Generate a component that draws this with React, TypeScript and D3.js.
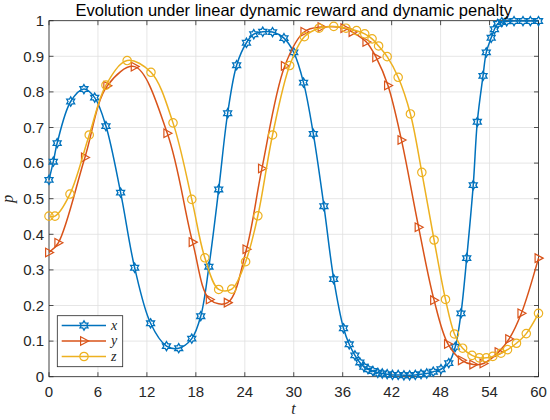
import React from "react";
import * as d3 from "d3";

const xT = [0, 0.53, 1.0, 2.66, 4.28, 5.6, 6.98, 8.78, 10.5, 12.45, 14.4, 15.9, 17.5, 18.6, 19.6, 20.8, 21.9, 23.0, 24.2, 25.1, 26.2, 27.4, 28.8, 30.0, 31.2, 32.4, 33.7, 34.9, 36.1, 36.8, 37.5, 38.1, 38.6, 39.1, 39.7, 40.3, 40.85, 41.45, 42.1, 42.8, 43.5, 44.2, 44.9, 45.6, 46.3, 47.1, 48.05, 49.0, 49.8, 50.5, 51.2, 52.0, 52.5, 53.2, 53.6, 54.2, 54.6, 55.0, 55.5, 56.1, 57.0, 58.1, 59.0, 60];
const xP = [0.553, 0.604, 0.656, 0.773, 0.808, 0.784, 0.704, 0.517, 0.306, 0.150, 0.086, 0.080, 0.107, 0.170, 0.309, 0.526, 0.740, 0.875, 0.938, 0.962, 0.969, 0.968, 0.951, 0.911, 0.826, 0.682, 0.479, 0.274, 0.136, 0.091, 0.060, 0.040, 0.028, 0.021, 0.016, 0.011, 0.009, 0.007, 0.005, 0.005, 0.004, 0.004, 0.005, 0.007, 0.009, 0.014, 0.021, 0.038, 0.084, 0.178, 0.333, 0.538, 0.716, 0.845, 0.911, 0.952, 0.976, 0.991, 0.996, 0.998, 0.999, 0.999, 0.999, 0.999];

const yT = [0, 1.14, 4.4, 7.14, 10.5, 14.5, 17.6, 19.7, 21.9, 24.2, 26.1, 28.9, 31.3, 33.4, 36.2, 37.2, 38.9, 40.1, 41.55, 43.2, 45.3, 47.2, 48.9, 50.6, 52.0, 53.25, 55.1, 56.4, 57.9, 60];
const yP = [0.349, 0.376, 0.616, 0.817, 0.871, 0.684, 0.378, 0.217, 0.208, 0.358, 0.585, 0.873, 0.969, 0.982, 0.979, 0.968, 0.940, 0.897, 0.818, 0.665, 0.420, 0.215, 0.092, 0.046, 0.034, 0.037, 0.069, 0.106, 0.178, 0.333];

const zT = [0, 0.73, 2.57, 4.93, 6.98, 9.58, 12.5, 15.2, 17.5, 19.1, 20.8, 22.4, 24.1, 25.6, 27.4, 29.5, 31.3, 33.1, 34.9, 36.4, 37.7, 38.7, 39.6, 40.4, 41.45, 42.8, 44.3, 45.7, 47.2, 48.6, 49.7, 50.7, 51.85, 52.75, 53.6, 54.4, 55.4, 56.2, 57.3, 58.5, 60];
const zP = [0.451, 0.451, 0.513, 0.679, 0.819, 0.888, 0.855, 0.713, 0.498, 0.334, 0.245, 0.246, 0.323, 0.452, 0.679, 0.874, 0.955, 0.979, 0.984, 0.979, 0.972, 0.963, 0.949, 0.929, 0.899, 0.841, 0.738, 0.574, 0.384, 0.217, 0.120, 0.080, 0.060, 0.053, 0.053, 0.057, 0.066, 0.076, 0.094, 0.121, 0.178];

const xTicks = [0, 6, 12, 18, 24, 30, 36, 42, 48, 54, 60];
const yTicks = [0, 0.1, 0.2, 0.3, 0.4, 0.5, 0.6, 0.7, 0.8, 0.9, 1];
const seriesNames = ["x", "y", "z"];
const colors = ["#0072BD", "#D95319", "#EDB120"];
const title = "Evolution under linear dynamic reward and dynamic penalty";

const L = 49, R = 538.5, T = 20.7, B = 376.7;

function hexagram(r: number) {
  const pts: string[] = [];
  for (let i = 0; i < 12; i++) {
    const a = -Math.PI / 2 + (i * Math.PI) / 6;
    const rr = i % 2 === 0 ? r : r / Math.sqrt(3);
    pts.push(`${(rr * Math.cos(a)).toFixed(2)},${(rr * Math.sin(a)).toFixed(2)}`);
  }
  return "M" + pts.join("L") + "Z";
}
const triPath = "M4.6,0L-3.4,-4.3L-3.4,4.3Z";

function Marker({ kind, color }: { kind: number; color: string }) {
  if (kind === 0) return <path d={hexagram(4.6)} fill="none" stroke={color} strokeWidth={1.3} />;
  if (kind === 1) return <path d={triPath} fill="none" stroke={color} strokeWidth={1.2} />;
  return <circle r={4.2} fill="none" stroke={color} strokeWidth={1.2} />;
}

export default function App() {
  const xs = d3.scaleLinear().domain([0, 60]).range([L, R]);
  const ys = d3.scaleLinear().domain([0, 1]).range([B, T]);
  const series = [
    xT.map((t, i) => [t, xP[i]] as [number, number]),
    yT.map((t, i) => [t, yP[i]] as [number, number]),
    zT.map((t, i) => [t, zP[i]] as [number, number]),
  ];
  const line = d3
    .line<[number, number]>()
    .x((d) => xs(d[0]))
    .y((d) => ys(d[1]))
    .curve(d3.curveCatmullRom.alpha(0.5));
  const axisColor = "#262626";
  const font = "'Liberation Sans', Arial, Helvetica, sans-serif";
  const legY = [325.5, 341, 356.5];
  return (
    <svg width={550} height={420} style={{ position: "absolute", left: 0, top: 0, background: "#fff" }}>
      <rect x={0} y={0} width={550} height={420} fill="#fff" />
      <g>
        {xTicks.map((t) => (
          <line key={"gx" + t} x1={xs(t)} x2={xs(t)} y1={T} y2={B} stroke="#e0e0e0" strokeWidth={0.8} />
        ))}
        {yTicks.map((t) => (
          <line key={"gy" + t} x1={L} x2={R} y1={ys(t)} y2={ys(t)} stroke="#e0e0e0" strokeWidth={0.8} />
        ))}
      </g>
      <rect x={L} y={T} width={R - L} height={B - T} fill="none" stroke={axisColor} strokeWidth={0.8} />
      {xTicks.map((t) => (
        <g key={"tx" + t}>
          <line x1={xs(t)} x2={xs(t)} y1={B} y2={B - 4.5} stroke={axisColor} strokeWidth={0.8} />
          <line x1={xs(t)} x2={xs(t)} y1={T} y2={T + 4.5} stroke={axisColor} strokeWidth={0.8} />
          <text x={xs(t)} y={B + 20} textAnchor="middle" fontFamily={font} fontSize={15} fill={axisColor}>
            {t}
          </text>
        </g>
      ))}
      {yTicks.map((t) => (
        <g key={"ty" + t}>
          <line x1={L} x2={L + 4.5} y1={ys(t)} y2={ys(t)} stroke={axisColor} strokeWidth={0.8} />
          <line x1={R} x2={R - 4.5} y1={ys(t)} y2={ys(t)} stroke={axisColor} strokeWidth={0.8} />
          <text x={L - 5} y={ys(t) + 5.3} textAnchor="end" fontFamily={font} fontSize={15} fill={axisColor}>
            {d3.format("~g")(t)}
          </text>
        </g>
      ))}
      {series.map((s, k) => (
        <g key={"s" + k}>
          <path d={line(s) || ""} fill="none" stroke={colors[k]} strokeWidth={1.5} />
          {s.map((d, i) => (
            <g key={i} transform={`translate(${xs(d[0])},${ys(d[1])})`}>
              <Marker kind={k} color={colors[k]} />
            </g>
          ))}
        </g>
      ))}
      <text x={(L + R) / 2} y={16} textAnchor="middle" fontFamily={font} fontSize={16.5} fill="#000">
        {title}
      </text>
      <text x={293.5} y={414} textAnchor="middle" fontFamily="'Liberation Serif', 'Times New Roman', serif" fontStyle="italic" fontSize={16} fill={axisColor}>
        t
      </text>
      <text transform={`translate(13,${(T + B) / 2}) rotate(-90)`} textAnchor="middle" fontFamily="'Liberation Serif', 'Times New Roman', serif" fontStyle="italic" fontSize={16} fill={axisColor}>
        p
      </text>
      <g>
        <rect x={57.3} y={315.7} width={65.4} height={51} fill="#fff" stroke={axisColor} strokeWidth={0.8} />
        {seriesNames.map((n, k) => (
          <g key={"lg" + k}>
            <line x1={61.7} x2={106} y1={legY[k]} y2={legY[k]} stroke={colors[k]} strokeWidth={1.5} />
            <g transform={`translate(84,${legY[k]})`}>
              <Marker kind={k} color={colors[k]} />
            </g>
            <text x={111} y={legY[k] + 4} fontFamily="'Liberation Serif', 'Times New Roman', serif" fontStyle="italic" fontSize={14} fill={axisColor}>
              {n}
            </text>
          </g>
        ))}
      </g>
    </svg>
  );
}
